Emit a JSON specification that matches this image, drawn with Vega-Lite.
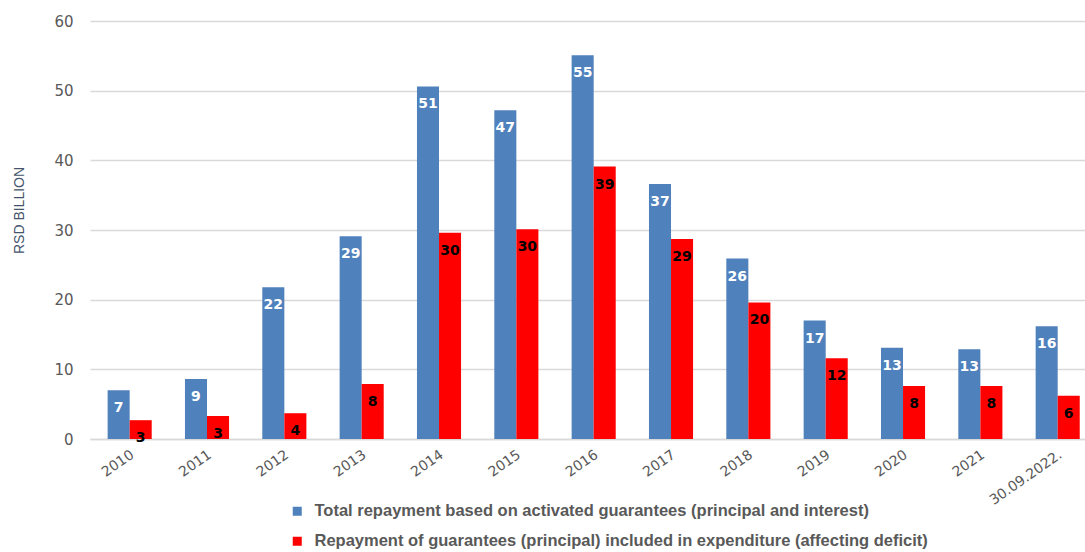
{
  "$schema": "https://vega.github.io/schema/vega-lite/v6.json",
  "autosize": "none",
  "width": 995,
  "height": 418,
  "padding": {"left": 90, "top": 21, "right": 0, "bottom": 113},
  "background": "white",
  "config": {"view": {"stroke": null}},
  "data": {
    "values": [
      {"year": "2010", "series": "Total repayment based on activated guarantees (principal and interest)", "value": 7.0},
      {"year": "2010", "series": "Repayment of guarantees (principal) included in expenditure (affecting deficit)", "value": 2.7},
      {"year": "2011", "series": "Total repayment based on activated guarantees (principal and interest)", "value": 8.6},
      {"year": "2011", "series": "Repayment of guarantees (principal) included in expenditure (affecting deficit)", "value": 3.3},
      {"year": "2012", "series": "Total repayment based on activated guarantees (principal and interest)", "value": 21.8},
      {"year": "2012", "series": "Repayment of guarantees (principal) included in expenditure (affecting deficit)", "value": 3.7},
      {"year": "2013", "series": "Total repayment based on activated guarantees (principal and interest)", "value": 29.1},
      {"year": "2013", "series": "Repayment of guarantees (principal) included in expenditure (affecting deficit)", "value": 7.9},
      {"year": "2014", "series": "Total repayment based on activated guarantees (principal and interest)", "value": 50.6},
      {"year": "2014", "series": "Repayment of guarantees (principal) included in expenditure (affecting deficit)", "value": 29.6},
      {"year": "2015", "series": "Total repayment based on activated guarantees (principal and interest)", "value": 47.2},
      {"year": "2015", "series": "Repayment of guarantees (principal) included in expenditure (affecting deficit)", "value": 30.1},
      {"year": "2016", "series": "Total repayment based on activated guarantees (principal and interest)", "value": 55.1},
      {"year": "2016", "series": "Repayment of guarantees (principal) included in expenditure (affecting deficit)", "value": 39.1},
      {"year": "2017", "series": "Total repayment based on activated guarantees (principal and interest)", "value": 36.6},
      {"year": "2017", "series": "Repayment of guarantees (principal) included in expenditure (affecting deficit)", "value": 28.7},
      {"year": "2018", "series": "Total repayment based on activated guarantees (principal and interest)", "value": 25.9},
      {"year": "2018", "series": "Repayment of guarantees (principal) included in expenditure (affecting deficit)", "value": 19.6},
      {"year": "2019", "series": "Total repayment based on activated guarantees (principal and interest)", "value": 17.0},
      {"year": "2019", "series": "Repayment of guarantees (principal) included in expenditure (affecting deficit)", "value": 11.6},
      {"year": "2020", "series": "Total repayment based on activated guarantees (principal and interest)", "value": 13.1},
      {"year": "2020", "series": "Repayment of guarantees (principal) included in expenditure (affecting deficit)", "value": 7.6},
      {"year": "2021", "series": "Total repayment based on activated guarantees (principal and interest)", "value": 12.9},
      {"year": "2021", "series": "Repayment of guarantees (principal) included in expenditure (affecting deficit)", "value": 7.6},
      {"year": "30.09.2022.", "series": "Total repayment based on activated guarantees (principal and interest)", "value": 16.2},
      {"year": "30.09.2022.", "series": "Repayment of guarantees (principal) included in expenditure (affecting deficit)", "value": 6.2}
    ]
  },
  "encoding": {
    "x": {
      "field": "year", "type": "nominal", "sort": null,
      "scale": {"paddingInner": 0.43, "paddingOuter": 0.148, "align": 0.77},
      "axis": {
        "title": null, "labelAngle": -35, "labelAlign": "right", "labelBaseline": "middle",
        "labelPadding": 14, "labelOffset": 3, "labelFont": "DejaVu Sans", "labelFontSize": 14, "labelColor": "#595959",
        "ticks": false, "domain": true, "domainColor": "#D9D9D9", "domainWidth": 1.5,
        "labelBound": false, "labelOverlap": false
      }
    },
    "xOffset": {
      "field": "series", "type": "nominal",
      "scale": {"domain": ["Total repayment based on activated guarantees (principal and interest)", "Repayment of guarantees (principal) included in expenditure (affecting deficit)"]}
    },
    "y": {
      "field": "value", "type": "quantitative",
      "scale": {"domain": [0, 60], "nice": false},
      "axis": {
        "title": "RSD BILLION", "values": [0, 10, 20, 30, 40, 50, 60],
        "titleFont": "Liberation Sans", "titleFontSize": 14, "titleFontWeight": "normal", "titleColor": "#44546A",
        "titleAngle": 270, "titleX": -71, "titleY": 189, "titleAlign": "center", "titleBaseline": "middle",
        "labelFont": "DejaVu Sans", "labelFontSize": 15, "labelColor": "#595959", "labelPadding": 17,
        "ticks": false, "domain": false, "grid": true, "gridColor": "#D9D9D9", "gridWidth": 1.5
      }
    }
  },
  "layer": [
    {
      "mark": {"type": "bar"},
      "encoding": {
        "color": {
          "field": "series", "type": "nominal",
          "scale": {
            "domain": ["Total repayment based on activated guarantees (principal and interest)", "Repayment of guarantees (principal) included in expenditure (affecting deficit)"],
            "range": ["#4F81BD", "#FF0000"]
          },
          "legend": {
            "title": null, "orient": "none", "legendX": 199, "legendY": 482, "direction": "vertical",
            "symbolType": "square", "symbolSize": 81, "symbolStrokeWidth": 0,
            "labelFont": "Liberation Sans", "labelFontSize": 16.5, "labelFontWeight": "bold", "labelColor": "#595959",
            "labelLimit": 900, "labelOffset": 9, "rowPadding": 13
          }
        }
      }
    },
    {
      "mark": {"type": "text", "baseline": "middle", "align": "center", "dy": 18, "font": "DejaVu Sans", "fontSize": 14, "fontWeight": "bold"},
      "encoding": {
        "text": {"field": "value", "type": "quantitative", "format": ".0f"},
        "color": {
          "condition": {"test": "datum.series === 'Total repayment based on activated guarantees (principal and interest)'", "value": "white"},
          "value": "black"
        }
      }
    }
  ]
}
